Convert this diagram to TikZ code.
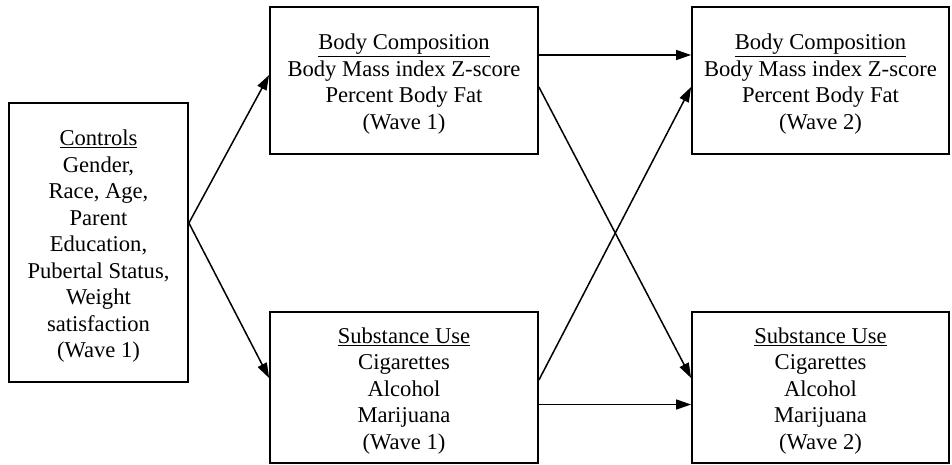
\documentclass[tikz,border=0pt]{standalone}
\usepackage{fontspec}
\setmainfont{Liberation Serif}
\usetikzlibrary{calc,arrows.meta}
\begin{document}
\begin{tikzpicture}[x=1pt,y=-1pt,
  box/.style={draw,line width=1.8pt,inner sep=0pt},
  txt/.style={align=center,inner sep=0pt,font=\fontsize{22.6}{26.5}\selectfont},
  arr/.style={line width=1.5pt,-{Triangle[length=15pt,width=10pt]}}]
\useasboundingbox (0,0) rectangle (952,464);
\node[box,minimum width=179pt,minimum height=279pt] (ctrl) at (98.5,242.5) {};
\node[box,minimum width=268pt,minimum height=147pt] (b1) at (404,80.5) {};
\node[box,minimum width=257pt,minimum height=147pt] (b2) at (820.5,80.5) {};
\node[box,minimum width=268pt,minimum height=151pt] (s1) at (404,387.5) {};
\node[box,minimum width=257pt,minimum height=151pt] (s2) at (820.5,387.5) {};
\node[txt] (ctrlt) at ($(ctrl.center)+(0,4)$)
  {\underline{Controls}\\Gender,\\Race, Age,\\Parent\\Education,\\Pubertal Status,\\Weight\\satisfaction\\(Wave 1)};
\node[txt] (b1t) at ($(b1.center)+(0,3.5)$)
  {\underline{Body Composition}\\Body Mass index Z-score\\Percent Body Fat\\(Wave 1)};
\node[txt] (b2t) at ($(b2.center)+(0,3.5)$)
  {\underline{Body Composition}\\Body Mass index Z-score\\Percent Body Fat\\(Wave 2)};
\node[txt] (s1t) at ($(s1.center)+(0,3.5)$)
  {\underline{Substance Use}\\Cigarettes\\Alcohol\\Marijuana\\(Wave 1)};
\node[txt] (s2t) at ($(s2.center)+(0,3.5)$)
  {\underline{Substance Use}\\Cigarettes\\Alcohol\\Marijuana\\(Wave 2)};
\draw[arr] ($(ctrl.east)+(0,-19.5)$) -- ($(b1.west)+(0,-5.5)$);
\draw[arr] ($(ctrl.east)+(0,-19.5)$) -- ($(s1.west)+(0,-9.5)$);
\draw[arr] ($(b1.east)+(0,-25.5)$) -- ($(b2.west)+(0,-25.5)$);
\draw[arr] ($(b1.east)+(0,6.5)$) -- ($(s2.west)+(0,-9.5)$);
\draw[arr] ($(s1.east)+(0,-7.5)$) -- ($(b2.west)+(0,6.5)$);
\draw[arr] ($(s1.east)+(0,17)$) -- ($(s2.west)+(0,17)$);
\end{tikzpicture}
\end{document}
